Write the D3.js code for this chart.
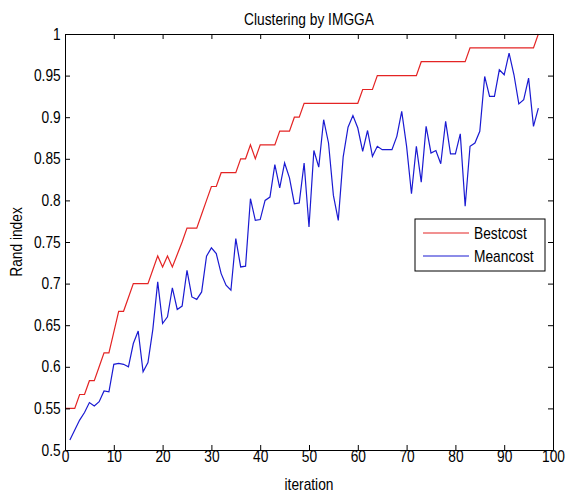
<!DOCTYPE html>
<html>
<head>
<meta charset="utf-8">
<script src="https://cdn.jsdelivr.net/npm/d3@7/dist/d3.min.js"></script>
<style>
  body { margin: 0; background: #fff; }
  text { font-family: "Liberation Sans", Arial, sans-serif; }
</style>
</head>
<body>
<script>
var width = 565;
var height = 494;

// iterations
var bestIter = d3.range(0, 98);
var meanIter = d3.range(1, 98);

// Bestcost (red), one value per iteration from 0
var bestcost = [
  0.55, 0.55, 0.55, 0.5667, 0.5667, 0.5833, 0.5833, 0.6, 0.6167, 0.6167,
  0.6417, 0.6667, 0.6667, 0.6833, 0.7, 0.7, 0.7, 0.7, 0.7167, 0.7333,
  0.72, 0.7333, 0.72, 0.735, 0.75, 0.7667, 0.7667, 0.7667, 0.7833, 0.8,
  0.8167, 0.8167, 0.8333, 0.8333, 0.8333, 0.8333, 0.85, 0.85, 0.8667, 0.85,
  0.8667, 0.8667, 0.8667, 0.8667, 0.8833, 0.8833, 0.8833, 0.9, 0.9, 0.9167,
  0.9167, 0.9167, 0.9167, 0.9167, 0.9167, 0.9167, 0.9167, 0.9167, 0.9167, 0.9167,
  0.9167, 0.9333, 0.9333, 0.9333, 0.95, 0.95, 0.95, 0.95, 0.95, 0.95,
  0.95, 0.95, 0.95, 0.9667, 0.9667, 0.9667, 0.9667, 0.9667, 0.9667, 0.9667,
  0.9667, 0.9667, 0.9667, 0.9833, 0.9833, 0.9833, 0.9833, 0.9833, 0.9833, 0.9833,
  0.9833, 0.9833, 0.9833, 0.9833, 0.9833, 0.9833, 0.9833, 1.0
];

// Meancost (blue), iterations 1..97
var meancost = [
  0.512, 0.524, 0.536, 0.545, 0.557, 0.553, 0.558, 0.571, 0.570, 0.603,
  0.604, 0.603, 0.600, 0.628, 0.643, 0.594, 0.605, 0.645, 0.702, 0.652,
  0.660, 0.695, 0.669, 0.673, 0.716, 0.684, 0.681, 0.690, 0.733, 0.743,
  0.736, 0.712, 0.698, 0.692, 0.754, 0.720, 0.721, 0.802, 0.776, 0.777,
  0.800, 0.804, 0.843, 0.815, 0.845, 0.827, 0.796, 0.797, 0.845, 0.768,
  0.860, 0.840, 0.897, 0.869, 0.806, 0.776, 0.852, 0.888, 0.902, 0.887,
  0.859, 0.884, 0.853, 0.865, 0.861, 0.861, 0.861, 0.877, 0.907, 0.865,
  0.808, 0.865, 0.822, 0.889, 0.857, 0.860, 0.844, 0.895, 0.856, 0.856,
  0.880, 0.793, 0.865, 0.869, 0.883, 0.949, 0.925, 0.925, 0.957, 0.951,
  0.977, 0.951, 0.916, 0.921, 0.947, 0.889, 0.911
];

var xTicks = [0, 10, 20, 30, 40, 50, 60, 70, 80, 90, 100];
var yTicks = [0.5, 0.55, 0.6, 0.65, 0.7, 0.75, 0.8, 0.85, 0.9, 0.95, 1];
var seriesNames = ["Bestcost", "Meancost"];
var seriesColors = ["#e42424", "#1a1ad2"];

// the picture's text is tall and narrow, squeeze it a bit
var squeeze = "scale(0.86,1)";

var svg = d3.select("body").append("svg")
  .attr("width", width)
  .attr("height", height)

var x = d3.scaleLinear()
  .domain([0, 100])
  .range([65, 553]);

var y = d3.scaleLinear()
  .domain([0.5, 1])
  .range([450, 34]);

var fmt = function (d) { return String(+d.toFixed(2)); };

// lines
var bestLine = d3.line()
  .x(function (d, i) { return x(bestIter[i]); })
  .y(function (d) { return y(d); });

var meanLine = d3.line()
  .x(function (d, i) { return x(meanIter[i]); })
  .y(function (d) { return y(d); });

svg.append("path")
  .attr("d", bestLine(bestcost))
  .attr("fill", "none")
  .attr("stroke", seriesColors[0])
  .attr("stroke-width", 1.2);

svg.append("path")
  .attr("d", meanLine(meancost))
  .attr("fill", "none")
  .attr("stroke", seriesColors[1])
  .attr("stroke-width", 1.2);

// axes, ticks pointing inside like matlab
function styleAxis(g) {
  g.selectAll("path").attr("stroke", "#000");
  g.selectAll("line").attr("stroke", "#000");
  g.selectAll("text")
    .attr("fill", "#000")
    .attr("transform", squeeze)
    .style("font-size", "16px");
}

svg.append("g")
  .attr("transform", "translate(0," + y(0.5) + ")")
  .call(d3.axisBottom(x).tickValues(xTicks).tickFormat(fmt).tickSizeInner(-5).tickSizeOuter(0).tickPadding(1))
  .call(styleAxis);

svg.append("g")
  .attr("transform", "translate(0," + y(1) + ")")
  .call(d3.axisTop(x).tickValues(xTicks).tickFormat("").tickSizeInner(-5).tickSizeOuter(0))
  .call(styleAxis);

svg.append("g")
  .attr("transform", "translate(" + x(0) + ",0)")
  .call(d3.axisLeft(y).tickValues(yTicks).tickFormat(fmt).tickSizeInner(-5).tickSizeOuter(0).tickPadding(5))
  .call(styleAxis);

svg.append("g")
  .attr("transform", "translate(" + x(100) + ",0)")
  .call(d3.axisRight(y).tickValues(yTicks).tickFormat("").tickSizeInner(-5).tickSizeOuter(0))
  .call(styleAxis);

// title and labels
svg.append("text")
  .attr("transform", "translate(" + ((x(0) + x(100)) / 2) + ",25) " + squeeze)
  .attr("text-anchor", "middle")
  .style("font-size", "16px")
  .text("Clustering by IMGGA");

svg.append("text")
  .attr("transform", "translate(" + ((x(0) + x(100)) / 2) + ",490) " + squeeze)
  .attr("text-anchor", "middle")
  .style("font-size", "16px")
  .text("iteration");

svg.append("text")
  .attr("transform", "translate(22," + ((y(0.5) + y(1)) / 2) + ") rotate(-90) " + squeeze)
  .attr("text-anchor", "middle")
  .style("font-size", "16px")
  .text("Rand index");

// legend
var legend = svg.append("g")
  .attr("transform", "translate(415,219)");

legend.append("rect")
  .attr("width", 130)
  .attr("height", 52)
  .attr("fill", "#fff")
  .attr("stroke", "#000");

var item = legend.selectAll("g.item")
  .data(seriesNames)
  .enter()
  .append("g")
  .attr("class", "item")
  .attr("transform", function (d, i) { return "translate(0," + (14 + i * 23) + ")"; });

item.append("line")
  .attr("x1", 8).attr("x2", 54)
  .attr("stroke", function (d, i) { return seriesColors[i]; })
  .attr("stroke-width", 1.2);

item.append("text")
  .attr("transform", "translate(59,0) " + squeeze)
  .attr("dy", "0.35em")
  .style("font-size", "16px")
  .text(function (d) { return d; });
</script>
</body>
</html>
